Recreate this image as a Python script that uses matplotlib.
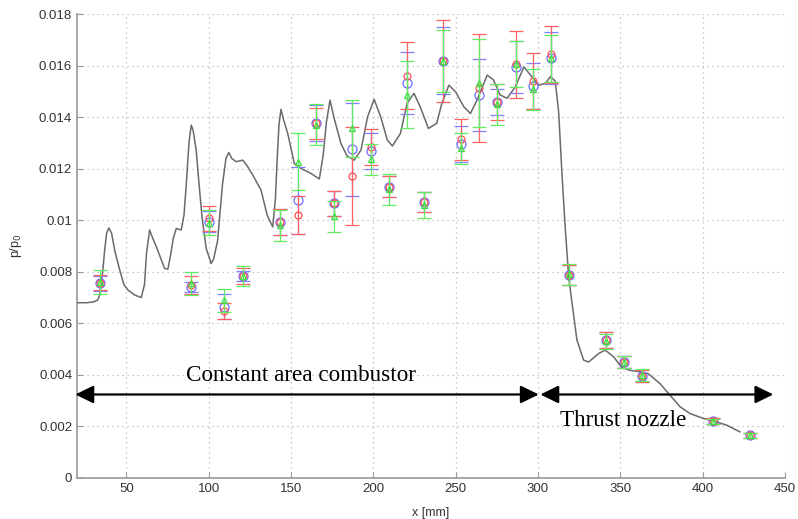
import numpy as np
import matplotlib
matplotlib.use('Agg')
from matplotlib import pyplot as plt

# simulated wall pressure (grey line)
x_sim = [20, 26, 30, 32.5, 33.8, 34.8, 35.9, 36.8, 38, 39.3, 41, 43, 46, 48.5, 51, 55, 59, 61, 62.2,
         64.1, 66, 68.2, 71, 73.2, 75.2, 77, 78.5, 80.3, 83.3, 85, 86.5, 88, 89.4, 90.5, 92.4, 94, 96,
         98.5, 101.5, 103, 105.4, 108.4, 110.5, 112.2, 114, 116.6, 120.7, 123.5, 126.8, 131.8, 135.5,
         138.9, 140.5, 141.7, 142.7, 143.9, 145.5, 148, 152, 156, 162, 167.2, 169.5, 171.5, 173.7, 176,
         180.3, 184, 188.4, 192.5, 196.5, 200.5, 204.5, 208.5, 211.6, 216.5, 220.5, 224.7, 228.5, 233.5,
         238.5, 241.5, 245.9, 250, 255, 259, 263, 269.2, 273, 277, 281.3, 286.3, 291.5, 295.5, 300.5,
         304.5, 307.6, 310.5, 312.6, 314.6, 316.7, 318.7, 320.7, 323.7, 327.8, 330.8, 336.9, 340.9, 346,
         350.6, 355.6, 362, 367, 374.2, 380.3, 386.4, 392.4, 400.5, 406.6, 414.7, 422.7]
p_sim = [0.0068, 0.0068, 0.00683, 0.0069, 0.0071, 0.00756, 0.0082, 0.00884, 0.0095, 0.0097, 0.0095,
         0.0088, 0.00806, 0.0075, 0.00729, 0.0071, 0.0070, 0.0075, 0.0087, 0.00962, 0.0093, 0.00897,
         0.0085, 0.00813, 0.0081, 0.0087, 0.0093, 0.00968, 0.00962, 0.0102, 0.0115, 0.0130, 0.01369,
         0.0135, 0.01272, 0.0115, 0.0101, 0.0089, 0.00832, 0.0085, 0.0092, 0.0114, 0.0124, 0.01263,
         0.0124, 0.01227, 0.01233, 0.0121, 0.01175, 0.01117, 0.0102, 0.00974, 0.0108, 0.0125, 0.0137,
         0.0143, 0.0139, 0.01337, 0.0122, 0.01201, 0.01182, 0.0116, 0.0125, 0.0138, 0.01466, 0.01401,
         0.01298, 0.0125, 0.01233, 0.01272, 0.01401, 0.01469, 0.01401, 0.01311, 0.01288, 0.01337,
         0.01453, 0.01492, 0.0144, 0.01356, 0.01376, 0.0145, 0.01524, 0.01498, 0.0144, 0.01414, 0.01466,
         0.01563, 0.01544, 0.01486, 0.01473, 0.01518, 0.01595, 0.01563, 0.01524, 0.01531, 0.01557,
         0.0154, 0.0142, 0.0118, 0.0096, 0.0078, 0.0068, 0.00535, 0.00457, 0.0045, 0.00483, 0.00496,
         0.0047, 0.00431, 0.00418, 0.00412, 0.00405, 0.00366, 0.00321, 0.00276, 0.0025, 0.00231,
         0.00221, 0.00205, 0.00179]

# measured pressure taps, three runs
x_exp = [34.2, 89.4, 99.9, 109.6, 120.7, 143.5, 154.1, 165.2, 176.2, 187.3, 198.5, 209.6, 220.3, 231.0,
         242.3, 253.5, 264.5, 275.3, 286.6, 297.1, 308.0, 318.7, 341.3, 352.0, 363.5, 406.6, 428.8]
p_blue = [0.00755, 0.0074, 0.00994, 0.00664, 0.00783, 0.00994, 0.01078, 0.01376, 0.01065, 0.01275,
          0.0127, 0.0113, 0.01533, 0.01071, 0.01618, 0.01295, 0.01486, 0.0146, 0.01595, 0.01521, 0.0163,
          0.00787, 0.00535, 0.0045, 0.00395, 0.00221, 0.00166]
p_red = [0.00758, 0.00748, 0.01007, 0.00647, 0.00783, 0.00994, 0.0102, 0.01376, 0.01065, 0.01172,
         0.01283, 0.0113, 0.0156, 0.01071, 0.01618, 0.01314, 0.01512, 0.0146, 0.01606, 0.0154, 0.01644,
         0.00787, 0.00535, 0.0045, 0.00395, 0.00221, 0.00166]
p_green = [0.0076, 0.00755, 0.0099, 0.0069, 0.00783, 0.0098, 0.01227, 0.0137, 0.01016, 0.01356,
           0.01237, 0.0112, 0.01486, 0.0106, 0.01618, 0.01279, 0.01533, 0.0145, 0.01606, 0.01508,
           0.01628, 0.0079, 0.0053, 0.0045, 0.004, 0.0022, 0.00166]
err_blue = [0.00028, 0.0002, 0.0004, 0.00048, 0.0002, 0.0005, 0.0013, 0.0007, 0.0005, 0.0018, 0.0007,
            0.0004, 0.0012, 0.0004, 0.0013, 0.0007, 0.0014, 0.0005, 0.001, 0.0009, 0.001, 0.0004, 0.0003,
            0.00025, 0.00023, 0.0001, 0.0001]
err_red = [0.0003, 0.00035, 0.00047, 0.0003, 0.0003, 0.0005, 0.00075, 0.0006, 0.0005, 0.0019, 0.0007,
           0.0004, 0.0013, 0.0004, 0.0016, 0.0008, 0.0021, 0.0007, 0.0013, 0.0011, 0.0011, 0.0004, 0.0003,
           0.00025, 0.00023, 0.0001, 0.0001]
err_green = [0.00045, 0.00045, 0.00048, 0.00045, 0.0004, 0.0006, 0.0011, 0.0008, 0.0006, 0.0011, 0.0006,
             0.0006, 0.0013, 0.0005, 0.0012, 0.0006, 0.0017, 0.0008, 0.0009, 0.0008, 0.0009, 0.0004,
             0.0003, 0.00025, 0.00023, 0.0001, 0.0001]

x_ticks = [50, 100, 150, 200, 250, 300, 350, 400, 450]
y_ticks = [0, 0.002, 0.004, 0.006, 0.008, 0.01, 0.012, 0.014, 0.016, 0.018]
y_labels = ['0', '0.002', '0.004', '0.006', '0.008', '0.01', '0.012', '0.014', '0.016', '0.018']

plt.rcParams['font.family'] = ['Liberation Sans', 'DejaVu Sans']

fig = plt.figure(figsize=(7.98, 5.19), dpi=100)
ax = fig.add_axes([0.0965, 0.079, 0.887, 0.894])

ax.plot(x_sim, p_sim, color='#6a6a6a', lw=1.1, solid_joinstyle='round', zorder=3)

# blue first, then red, green on top
ax.errorbar(x_exp, p_blue, yerr=err_blue, fmt='o', ms=6.5, mfc='none', mec='#6b6bff', mew=0.9,
            ecolor='#8080ff', elinewidth=0.9, capsize=5, capthick=0.9, zorder=4)
ax.errorbar(x_exp, p_red, yerr=err_red, fmt='o', ms=5, mfc='none', mec='#ff5050', mew=0.9,
            ecolor='#ff6060', elinewidth=0.9, capsize=5, capthick=0.9, zorder=5)
ax.errorbar(x_exp, p_green, yerr=err_green, fmt='^', ms=4.5, mfc='none', mec='#40dd40', mew=0.9,
            ecolor='#60ee60', elinewidth=0.9, capsize=5, capthick=0.9, zorder=6)

ax.set_xlim(20, 450)
ax.set_ylim(0, 0.018)
ax.set_xticks(x_ticks)
ax.set_yticks(y_ticks)
ax.set_yticklabels(y_labels)
ax.tick_params(direction='in', length=4, color='#999999', labelcolor='#333333', labelsize=9.5)
ax.grid(True, color='#b8b8b8', linestyle=(0, (1, 3)), lw=0.9)
for s in ['top', 'right']:
    ax.spines[s].set_visible(False)
for s in ['left', 'bottom']:
    ax.spines[s].set_color('#a0a0a0')
    ax.spines[s].set_linewidth(1.3)

ax.set_xlabel('x [mm]', fontsize=9, color='#333333', labelpad=9)
ax.set_ylabel('p/p$_0$', fontsize=9, color='#333333', labelpad=11)

# section arrows
arr = dict(arrowstyle='<|-|>,head_length=0.55,head_width=0.27', color='k', lw=1.6,
           shrinkA=0, shrinkB=0, mutation_scale=20)
ax.annotate('', xy=(300.5, 0.00324), xytext=(19, 0.00324), arrowprops=arr, annotation_clip=False)
ax.annotate('', xy=(443, 0.00324), xytext=(301.5, 0.00324), arrowprops=arr, annotation_clip=False)
ax.text(156, 0.00399, 'Constant area combustor', family='Liberation Serif', fontsize=16.7,
        ha='center', va='center')
ax.text(351.6, 0.00224, 'Thrust nozzle', family='Liberation Serif', fontsize=16.7,
        ha='center', va='center')

fig.savefig('out.png', dpi=100)
